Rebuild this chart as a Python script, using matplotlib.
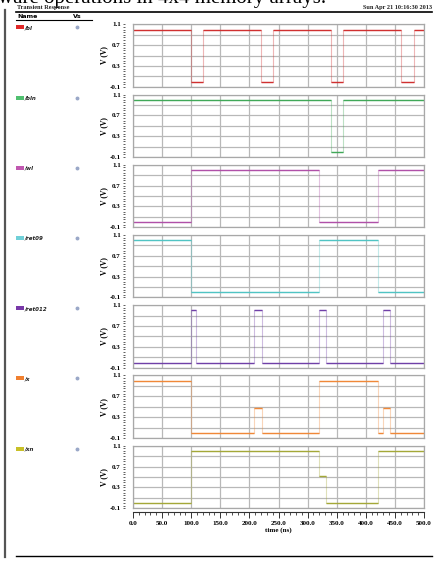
import numpy as np
import matplotlib.pyplot as plt
from matplotlib.lines import Line2D
from matplotlib.patches import Rectangle
from matplotlib.ticker import MultipleLocator, FixedLocator, FuncFormatter

# signal names shown in the left column
names = ["/bl", "/bln", "/wl", "/ret09", "/ret012", "/x", "/xn"]

# step waveforms: transition times (ns) and level held from that time (V)
t_bl = [0, 100, 120, 220, 240, 341, 360, 460, 482, 500]
v_bl = [1.0, 0.0, 1.0, 0.0, 1.0, 0.0, 1.0, 0.0, 1.0, 1.0]

t_bln = [0, 341, 360, 500]
v_bln = [1.0, 0.0, 1.0, 1.0]

t_wl = [0, 100, 319, 421, 500]
v_wl = [0.0, 1.0, 0.0, 1.0, 1.0]

t_ret09 = [0, 100, 319, 421, 500]
v_ret09 = [1.0, 0.0, 1.0, 0.0, 0.0]

t_ret012 = [0, 100, 109, 208, 221, 319, 331, 430, 441, 500]
v_ret012 = [0.0, 1.0, 0.0, 1.0, 0.0, 1.0, 0.0, 1.0, 0.0, 0.0]

t_x = [0, 100, 208, 221, 319, 421, 430, 441, 500]
v_x = [1.0, 0.0, 0.47, 0.0, 1.0, 0.0, 0.47, 0.0, 0.0]

t_xn = [0, 100, 319, 332, 421, 500]
v_xn = [0.0, 1.0, 0.52, 0.0, 1.0, 1.0]

times = [t_bl, t_bln, t_wl, t_ret09, t_ret012, t_x, t_xn]
levels = [v_bl, v_bln, v_wl, v_ret09, v_ret012, v_x, v_xn]

line_colors = ["#d03030", "#40a858", "#b050a8", "#50c4c4", "#7040a8", "#f08838", "#a4a838"]
swatch_colors = ["#e02828", "#50c070", "#c058b0", "#70d0d8", "#7838a8", "#f08030", "#c8c028"]

x_ticks = np.arange(0, 501, 50)
y_labels = [1.1, 0.7, 0.3, -0.1]

W, H = 443, 561
fig = plt.figure(figsize=(W / 100, H / 100), dpi=100)


def fx(px):
    return px / W


def fy(py):
    return 1 - py / H


serif = ["Liberation Serif", "DejaVu Serif"]

# page decorations around the viewer window (title line is cut by the top edge)
fig.text(fx(-2), fy(3.5), "ware operations in 4x4 memory arrays.", fontsize=15,
         family=serif, va="baseline", ha="left")
fig.text(fx(17), fy(9), "Transient Response", fontsize=4.5, weight="bold",
         family=serif, va="baseline", color="#222222")
fig.text(fx(432), fy(9), "Sun Apr 21 10:16:30 2013", fontsize=4.5, weight="bold",
         family=serif, va="baseline", ha="right", color="#222222")
fig.add_artist(Line2D([fx(16), fx(432)], [fy(12.3), fy(12.3)], color="black", lw=1.2))
fig.add_artist(Line2D([fx(5), fx(5)], [fy(10), fy(557)], color="#555555", lw=1.6))
fig.add_artist(Line2D([fx(16), fx(432)], [fy(556), fy(556)], color="black", lw=1.0))
fig.text(fx(17), fy(17.5), "Name", fontsize=4.5, weight="bold", va="baseline")
fig.text(fx(73), fy(17.5), "Vs", fontsize=4.5, weight="bold", va="baseline")
fig.add_artist(Line2D([fx(16), fx(92)], [fy(19.5), fy(19.5)], color="black", lw=0.8))

ax_left, ax_right = 133, 424
top0, pitch, height = 24.3, 70.23, 62.5

for i in range(len(names)):
    top = top0 + pitch * i
    ax = fig.add_axes([fx(ax_left), fy(top + height), (ax_right - ax_left) / W, height / H])
    t = np.array(times[i], dtype=float)
    v = np.array(levels[i], dtype=float)

    # faint edges, solid levels
    ax.step(t, v, where="post", color=line_colors[i], lw=0.8, alpha=0.35)
    ax.hlines(v[:-1], t[:-1], t[1:], color=line_colors[i], lw=1.0)

    ax.set_xlim(0, 500)
    ax.set_ylim(-0.1, 1.1)
    ax.xaxis.set_major_locator(FixedLocator(x_ticks))
    ax.yaxis.set_major_locator(FixedLocator(np.round(np.arange(-0.1, 1.11, 0.2), 2)))
    ax.tick_params(length=0, labelbottom=False, labelleft=False)
    ax.grid(True, color="#b8b8b8", lw=0.9)
    ax.set_axisbelow(True)
    for s in ax.spines.values():
        s.set_color("#a8a8a8")
        s.set_linewidth(0.9)

    # detached ruler of y ticks
    sy = ax.secondary_yaxis(-8 / (ax_right - ax_left))
    sy.spines["left"].set_visible(False)
    sy.yaxis.set_major_locator(FixedLocator(y_labels))
    sy.yaxis.set_minor_locator(MultipleLocator(0.05))
    sy.yaxis.set_major_formatter(FuncFormatter(lambda val, pos: f"{val:.1f}"))
    sy.tick_params(which="both", direction="out", length=1.5, width=0.6, color="#444444",
                   labelsize=5, pad=1.5)
    for lab in sy.get_yticklabels():
        lab.set_family(serif)
        lab.set_weight("bold")
    sy.set_ylabel("V (V)", fontsize=5.5, weight="bold", family=serif, labelpad=1)

    # legend row on the left
    ry = top + 3
    fig.add_artist(Rectangle((fx(16), fy(ry + 2)), 7.5 / W, 4 / H,
                             transform=fig.transFigure, color=swatch_colors[i], lw=0))
    fig.text(fx(24.5), fy(ry + 2), names[i], fontsize=4, weight="bold", style="italic",
             va="baseline", color="#222222")
    fig.add_artist(Line2D([fx(76.5)], [fy(ry)], marker="o", markersize=1.8,
                          color="#9aa8c8", transform=fig.transFigure))

    if i == len(names) - 1:
        sx = ax.secondary_xaxis(-4 / height)
        sx.spines["bottom"].set_color("#333333")
        sx.spines["bottom"].set_linewidth(0.8)
        sx.xaxis.set_major_locator(FixedLocator(x_ticks))
        sx.xaxis.set_minor_locator(MultipleLocator(10))
        sx.xaxis.set_major_formatter(FuncFormatter(lambda val, pos: f"{val:.1f}"))
        sx.tick_params(which="major", direction="out", length=4.5, width=0.7, color="#333333",
                       labelsize=5, pad=2)
        sx.tick_params(which="minor", direction="out", length=2.5, width=0.6, color="#333333")
        for lab in sx.get_xticklabels():
            lab.set_family(serif)
            lab.set_weight("bold")
        sx.set_xlabel("time (ns)", fontsize=5, weight="bold", family=serif, labelpad=1)

fig.savefig("out.png", dpi=100)
